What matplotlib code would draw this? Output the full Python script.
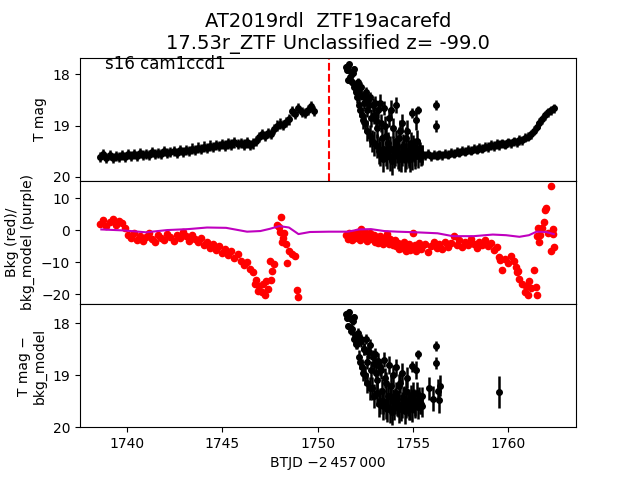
import matplotlib
matplotlib.use("Agg")
import matplotlib.pyplot as plt

########### light curve values ################################################
# left orbit, T mag (top panel)
t_left = [1738.60, 1738.76, 1738.92, 1739.08, 1739.24, 1739.40, 1739.56, 1739.72, 1739.88, 1740.04,
          1740.20, 1740.36, 1740.52, 1740.68, 1740.84, 1741.00, 1741.16, 1741.32, 1741.48, 1741.64,
          1741.80, 1741.96, 1742.12, 1742.28, 1742.44, 1742.60, 1742.76, 1742.92, 1743.08, 1743.24,
          1743.40, 1743.56, 1743.72, 1743.88, 1744.04, 1744.20, 1744.36, 1744.52, 1744.68, 1744.84,
          1745.00, 1745.16, 1745.32, 1745.48, 1745.64, 1745.80, 1745.96, 1746.12, 1746.28, 1746.44,
          1746.60, 1746.76, 1746.92, 1747.08, 1747.24, 1747.40, 1747.56, 1747.72, 1747.88, 1748.04,
          1748.20, 1748.36, 1748.52, 1748.68, 1748.84, 1749.00, 1749.16, 1749.32, 1749.48, 1749.64,
          1749.80]
mag_left = [19.62, 19.56, 19.64, 19.58, 19.63, 19.59, 19.62, 19.57, 19.61, 19.56,
            19.60, 19.55, 19.59, 19.54, 19.58, 19.55, 19.57, 19.52, 19.56, 19.53,
            19.55, 19.50, 19.54, 19.51, 19.49, 19.53, 19.48, 19.51, 19.47, 19.50,
            19.45, 19.48, 19.43, 19.46, 19.41, 19.44, 19.39, 19.42, 19.38, 19.40,
            19.36, 19.39, 19.35, 19.37, 19.33, 19.36, 19.34, 19.37, 19.33, 19.38,
            19.35, 19.30, 19.22, 19.17, 19.20, 19.14, 19.16, 19.06, 19.00, 18.96,
            18.99, 18.93, 18.88, 18.72, 18.78, 18.66, 18.74, 18.76, 18.70, 18.62,
            18.72]
err_left = 0.10

# right orbit: noisy start (two interleaved runs), then the quiet baseline
t_cloud = [1751.50, 1751.58, 1751.66, 1751.74, 1751.82, 1751.90, 1751.98,
           1752.06, 1752.14, 1752.22, 1752.30, 1752.38, 1752.46, 1752.54, 1752.62, 1752.70, 1752.78, 1752.86, 1752.94,
           1753.02, 1753.10, 1753.18, 1753.26, 1753.34, 1753.42, 1753.50, 1753.58, 1753.66, 1753.74, 1753.82, 1753.90, 1753.98,
           1754.06, 1754.14, 1754.22, 1754.30, 1754.38, 1754.46, 1754.54, 1754.62, 1754.70, 1754.78, 1754.86, 1754.94,
           1755.02, 1755.10, 1755.18, 1755.26, 1755.34, 1755.42, 1755.50]
mag_cloud = [17.85, 18.10, 17.80, 17.95, 18.15, 17.90, 18.20,
             18.45, 18.30, 18.70, 18.40, 18.90, 18.55, 18.35, 19.10, 18.60, 18.45, 19.30, 18.80,
             18.55, 19.40, 18.70, 19.55, 18.95, 19.65, 18.65, 19.20, 19.60, 18.85, 19.45, 19.70, 19.05,
             19.55, 18.60, 19.60, 19.25, 19.65, 18.95, 19.50, 19.60, 19.10, 19.55, 19.65, 18.75,
             19.40, 19.60, 18.90, 18.69, 19.50, 19.60, 19.55]
err_cloud = [0.05, 0.06, 0.05, 0.06, 0.07, 0.06, 0.08,
             0.10, 0.09, 0.14, 0.10, 0.16, 0.12, 0.10, 0.20, 0.13, 0.11, 0.22, 0.16,
             0.12, 0.24, 0.15, 0.25, 0.18, 0.26, 0.14, 0.22, 0.25, 0.17, 0.24, 0.26, 0.20,
             0.25, 0.16, 0.25, 0.22, 0.26, 0.18, 0.24, 0.25, 0.20, 0.24, 0.25, 0.10,
             0.22, 0.24, 0.18, 0.08, 0.22, 0.20, 0.18]

t_cloud2 = [1751.54, 1751.62, 1751.70, 1751.78, 1751.86, 1751.94, 1752.02, 1752.10, 1752.18, 1752.26,
            1752.34, 1752.42, 1752.50, 1752.58, 1752.66, 1752.74, 1752.82, 1752.90, 1752.98, 1753.06,
            1753.14, 1753.22, 1753.30, 1753.38, 1753.46, 1753.54, 1753.62, 1753.70, 1753.78, 1753.86,
            1753.94, 1754.02, 1754.10, 1754.18, 1754.26, 1754.34, 1754.42, 1754.50, 1754.58, 1754.66,
            1754.74, 1754.82, 1754.90, 1754.98, 1755.06, 1755.14, 1755.22, 1755.30, 1755.38, 1755.46]
mag_cloud2 = [17.92, 17.84, 18.05, 18.12, 17.98, 18.25, 18.35, 18.15, 18.60, 18.25,
              18.80, 18.45, 18.95, 18.70, 18.50, 19.20, 18.85, 18.60, 19.35, 18.90,
              19.05, 19.50, 18.55, 19.25, 19.45, 19.00, 19.55, 19.35, 19.62, 18.70,
              19.45, 19.58, 19.30, 19.50, 19.62, 19.10, 19.55, 19.40, 19.65, 19.25,
              19.50, 19.58, 19.35, 19.62, 19.48, 19.55, 19.30, 19.60, 19.52, 19.58]
err_cloud2 = [0.06, 0.05, 0.07, 0.08, 0.07, 0.09, 0.10, 0.08, 0.13, 0.10,
              0.16, 0.12, 0.18, 0.14, 0.12, 0.22, 0.17, 0.14, 0.24, 0.18,
              0.20, 0.25, 0.16, 0.22, 0.25, 0.19, 0.25, 0.23, 0.26, 0.20,
              0.24, 0.25, 0.22, 0.24, 0.26, 0.20, 0.25, 0.23, 0.26, 0.22,
              0.24, 0.25, 0.22, 0.25, 0.23, 0.24, 0.21, 0.22, 0.20, 0.20]

t_base = [1755.65, 1755.80, 1755.95, 1756.10, 1756.25, 1756.40, 1756.55, 1756.70, 1756.85, 1757.00,
          1757.15, 1757.30, 1757.45, 1757.60, 1757.75, 1757.90, 1758.05, 1758.20, 1758.35, 1758.50,
          1758.65, 1758.80, 1758.95, 1759.10, 1759.25, 1759.40, 1759.55, 1759.70, 1759.85, 1760.00,
          1760.15, 1760.30, 1760.45, 1760.60, 1760.75, 1760.90, 1761.05, 1761.20, 1761.35, 1761.50,
          1761.65, 1761.80, 1761.95, 1762.10, 1762.25, 1762.40]
mag_base = [19.58, 19.55, 19.60, 19.57, 19.59, 19.56, 19.58, 19.55, 19.57, 19.53,
            19.55, 19.51, 19.53, 19.49, 19.51, 19.47, 19.49, 19.45, 19.47, 19.43,
            19.45, 19.41, 19.42, 19.38, 19.40, 19.36, 19.38, 19.35, 19.37, 19.33,
            19.35, 19.31, 19.33, 19.28, 19.29, 19.24, 19.22, 19.17, 19.10, 19.02,
            18.95, 18.88, 18.80, 18.74, 18.70, 18.66]
err_base = 0.09

t_outlier = [1756.22, 1756.22]
mag_outlier = [18.60, 19.01]
err_outlier = [0.10, 0.12]

# background (red) on the same cadences, plus stray points
bkg_left = [2.0, 3.2, 1.2, 2.6, 3.5, 1.6, 2.8, 2.2, 0.6, -1.5,
            -2.6, -0.8, -3.0, -1.8, -3.5, -2.2, -1.0, -2.8, -3.8, -1.5,
            -2.4, -3.2, -1.2, -2.2, -3.4, -1.6, -2.6, -0.6, -2.0, -3.4,
            -1.4, -2.8, -3.6, -2.6, -4.6, -3.6, -5.6, -4.4, -6.2, -5.0,
            -7.2, -5.8, -7.8, -6.6, -8.6, -7.6, -9.6, -11.0, -10.0, -12.2,
            -13.0, -15.5, -17.5, -19.2, -20.2, -18.5, -15.5, -10.5, 1.5, -0.5,
            -2.5, -4.5, -6.5, -7.5, -8.2]
bkg_cloud = [-1.5, -2.8, -0.8, -2.2, -3.2, -1.2, -2.5,
             -0.5, -1.8, -3.0, 0.3, -1.5, -2.6, -1.0, -3.4, -2.0, -0.8, -2.8, -1.6,
             -3.6, -2.2, -4.0, -1.8, -3.0, -4.4, -2.4, -3.4, -1.2, -4.2, -2.8, -3.8, -4.8,
             -3.2, -5.0, -4.0, -6.0, -4.6, -5.6, -3.8, -6.6, -5.0, -4.2, -6.2, -5.2,
             -1.0, -4.8, -6.4, -5.4, -4.0, -6.0, -5.0]
bkg_base = [-4.4, -6.8, -5.0, -3.6, -5.6, -4.2, -6.0, -3.8, -5.2, -4.0,
            -2.0, -4.6, -3.2, -5.4, -3.8, -4.8, -2.8, -4.4, -5.6, -3.6,
            -4.6, -3.0, -5.0, -4.0, -6.2, -5.4, -8.5, -12.4, -9.0, -10.2,
            -8.2, -9.6, -13.0, -15.2, -17.0, -19.4, -20.2, -18.0, -12.5, -2.0,
            -3.8, 0.5, 6.3, -1.0, 13.8, -5.2]
t_bkg_extra = [1746.70, 1746.85, 1747.15, 1747.30, 1747.50, 1747.62, 1748.00, 1748.10, 1748.15,
               1748.25, 1748.38, 1748.94, 1748.95,
               1759.60, 1760.40, 1760.55, 1760.95, 1761.10, 1761.48, 1761.52, 1761.60, 1761.70,
               1761.90, 1761.98, 1762.28, 1762.38, 1762.38]
bkg_extra = [-16.8, -19.0, -17.0, -16.0, -9.8, -12.8, 1.0, 4.2, -3.8,
             -1.0, -10.2, -18.8, -21.0,
             -9.5, -11.5, -12.8, -17.5, -15.8, -17.8, -20.3, 0.5, -1.5,
             2.6, 6.8, -6.5, 0.2, -1.3]

# background model (purple)
t_model = [1738.65, 1739.8, 1741.0, 1742.1, 1743.2, 1744.2, 1745.2, 1746.3, 1747.0, 1747.5,
           1748.0, 1748.5, 1749.0, 1749.6, 1750.6, 1751.6, 1752.2, 1752.8, 1753.5, 1754.2,
           1755.2, 1756.3, 1757.1, 1758.2, 1759.2, 1759.9, 1760.6, 1761.1, 1761.5, 1762.0, 1762.4]
bkg_model = [0.2, -0.1, -0.7, 0.0, 0.3, 0.8, 0.7, -0.5, -0.3, 0.4,
             1.25, 0.8, -1.25, -0.6, -0.5, -0.5, 0.2, 0.3, -0.3, -0.5,
             -0.7, -1.0, -1.9, -1.9, -1.4, -1.6, -2.1, -1.6, -0.5, -0.6, -1.25]

# T mag - bkg_model (bottom panel)
t_diff = t_cloud + [1755.87, 1756.05, 1756.22, 1756.22, 1756.30, 1756.38, 1756.45, 1759.55]
mag_diff = [17.82, 18.05, 17.78, 17.92, 18.12, 17.88, 18.22,
            18.40, 18.28, 18.75, 18.35, 18.95, 18.50, 18.30, 19.15, 18.55, 18.42, 19.25, 18.78,
            18.60, 19.35, 18.72, 19.50, 18.90, 19.60, 18.70, 19.15, 19.65, 18.80, 19.40, 19.70, 19.00,
            19.50, 18.85, 19.55, 19.20, 19.62, 18.95, 19.45, 19.58, 19.05, 19.50, 19.62, 18.83,
            19.35, 19.55, 18.90, 18.60, 19.45, 19.55, 19.40,
            19.25, 19.45, 18.44, 18.76, 19.30, 19.48, 19.20, 19.32]
err_diff = [0.05, 0.06, 0.05, 0.06, 0.07, 0.06, 0.08,
            0.10, 0.09, 0.14, 0.10, 0.16, 0.12, 0.10, 0.20, 0.13, 0.11, 0.22, 0.16,
            0.12, 0.24, 0.15, 0.25, 0.18, 0.26, 0.14, 0.22, 0.25, 0.17, 0.24, 0.26, 0.20,
            0.25, 0.16, 0.25, 0.22, 0.26, 0.18, 0.24, 0.25, 0.20, 0.24, 0.25, 0.10,
            0.22, 0.24, 0.18, 0.08, 0.22, 0.20, 0.18,
            0.22, 0.24, 0.10, 0.12, 0.22, 0.24, 0.20, 0.31]
mag_diff2 = [17.90, 17.86, 18.08, 18.15, 17.96, 18.30, 18.40, 18.18, 18.65, 18.30,
             18.85, 18.50, 19.00, 18.75, 18.55, 19.25, 18.90, 18.65, 19.40, 18.95,
             19.10, 19.55, 18.85, 19.30, 19.50, 19.05, 19.60, 19.40, 19.65, 19.20,
             19.50, 19.62, 19.35, 19.55, 19.65, 19.15, 19.58, 19.45, 19.68, 19.30,
             19.55, 19.62, 19.40, 19.65, 19.50, 19.58, 19.35, 19.62, 19.55, 19.60]

t_discovery = 1750.6
###############################################################################

fig, (ax1, ax2, ax3) = plt.subplots(3, 1, sharex=True, figsize=(6.4, 4.8))
plt.subplots_adjust(hspace=0)

# top: T mag light curve
for t, m, e in [(t_left, mag_left, err_left), (t_cloud, mag_cloud, err_cloud),
                (t_cloud2, mag_cloud2, err_cloud2), (t_base, mag_base, err_base),
                (t_outlier, mag_outlier, err_outlier)]:
    ax1.errorbar(t, m, yerr=e, fmt='o', color='k', ms=4, elinewidth=1.8)
ax1.axvline(t_discovery, color='r', ls='--', lw=1.5)
ax1.set_ylim(20.08, 17.67)
ax1.set_yticks([18, 19, 20])
ax1.set_ylabel("T mag")
ax1.text(0.05, 0.905, "s16 cam1ccd1", transform=ax1.transAxes, fontsize=12)
ax1.set_title("AT2019rdl  ZTF19acarefd\n17.53r_ZTF Unclassified z= -99.0", fontsize=14)

# middle: background and its model
ax2.plot(t_left[:len(bkg_left)], bkg_left, 'o', color='r', ms=4.5)
ax2.plot(t_cloud, bkg_cloud, 'o', color='r', ms=4.5)
ax2.plot(t_base, bkg_base, 'o', color='r', ms=4.5)
ax2.plot(t_bkg_extra, bkg_extra, 'o', color='r', ms=4.5)
ax2.plot(t_model, bkg_model, color='m', lw=1.5)
ax2.set_ylim(-23.1, 15.4)
ax2.set_yticks([10, 0, -10, -20])
ax2.set_ylabel("Bkg (red)/\nbkg_model (purple)")

# bottom: background-subtracted magnitude
ax3.errorbar(t_diff, mag_diff, yerr=err_diff, fmt='o', color='k', ms=4, elinewidth=1.8)
ax3.errorbar(t_cloud2, mag_diff2, yerr=err_cloud2, fmt='o', color='k', ms=4, elinewidth=1.8)
ax3.set_ylim(20.0, 17.63)
ax3.set_yticks([18, 19, 20])
ax3.set_ylabel("T mag \u2212\nbkg_model")
ax3.set_xlim(1737.53, 1763.57)
ax3.set_xlabel("BTJD \u22122\u2009457\u2009000")

plt.savefig("out.png", dpi=100)
